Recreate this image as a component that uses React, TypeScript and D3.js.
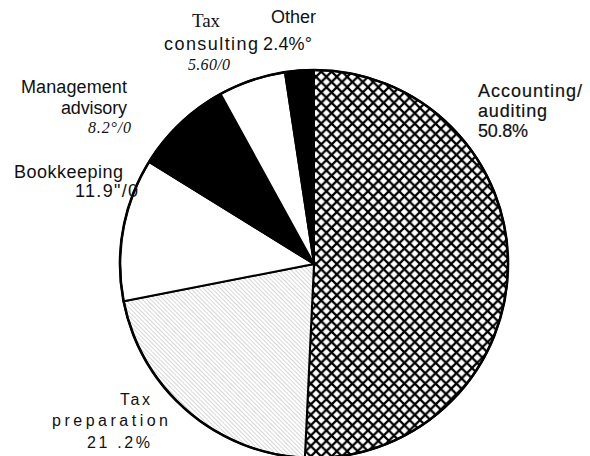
import React from "react";
import * as d3 from "d3";

const categories = ["Accounting/auditing", "Tax preparation", "Bookkeeping", "Management advisory", "Tax consulting", "Other"];
const values = [50.8, 21.2, 11.9, 8.2, 5.6, 2.4];
const fills = ["url(#cross)", "url(#hatch)", "#ffffff", "#000000", "#ffffff", "#000000"];

type Lbl = { text: string; x: number; y: number; size: number; serif?: boolean; italic?: boolean; anchor?: string; len?: number; bold?: boolean };
const labels: Lbl[] = [
  { text: "Tax", x: 206, y: 27, size: 19, serif: true, anchor: "middle" },
  { text: "consulting", x: 164, y: 50, size: 18, len: 94 },
  { text: "Other", x: 271, y: 23, size: 18, len: 45 },
  { text: "2.4%°", x: 263, y: 50, size: 18, len: 49 },
  { text: "5.60/0", x: 188, y: 70, size: 16, serif: true, italic: true, len: 42 },
  { text: "Management", x: 21, y: 92.5, size: 18, len: 106 },
  { text: "advisory", x: 61, y: 114, size: 18, len: 66 },
  { text: "8.2°/0", x: 88, y: 133, size: 16, serif: true, italic: true, len: 43 },
  { text: "Bookkeeping", x: 14, y: 178, size: 18, len: 109 },
  { text: "11.9\"/0", x: 75, y: 197, size: 18, len: 63 },
  { text: "Accounting/", x: 478, y: 97, size: 18, len: 104, bold: true },
  { text: "auditing", x: 478, y: 117, size: 18, len: 69, bold: true },
  { text: "50.8%", x: 478, y: 137, size: 18, len: 50, bold: true },
  { text: "Tax", x: 120, y: 405, size: 16, len: 30 },
  { text: "preparation", x: 52, y: 426, size: 16, len: 116 },
  { text: "21 .2%", x: 87, y: 448, size: 16, len: 63 },
];

const W = 590, H = 456;
const cx = 314, cy = 264, R = 194;
const P = 10.4;

export default function App() {
  const pie = d3.pie<number>().sort(null).startAngle(0).endAngle(2 * Math.PI);
  const arcs = pie(values);
  const arc = d3.arc<d3.PieArcDatum<number>>().innerRadius(0).outerRadius(R);
  return (
    <svg width={W} height={H} style={{ position: "absolute", left: 0, top: 0, background: "#fff" }}>
      <defs>
        <pattern id="cross" patternUnits="userSpaceOnUse" width={P} height={P} x={cx} y={0}>
          <rect width={P} height={P} fill="#fff" />
          <path d={`M-1,-1 L${P + 1},${P + 1} M${P + 1},-1 L-1,${P + 1}`} stroke="#000" strokeWidth={2.2} />
        </pattern>
        <pattern id="hatch" patternUnits="userSpaceOnUse" width={3} height={3} patternTransform="rotate(-45)">
          <rect width={3} height={3} fill="#fff" />
          <line x1={0} y1={0} x2={0} y2={3} stroke="#9a9a9a" strokeWidth={0.8} />
        </pattern>
      </defs>
      <g transform={`translate(${cx},${cy})`}>
        {arcs.map((a, i) => (
          <path key={categories[i]} d={arc(a) || ""} fill={fills[i]} stroke="#000" strokeWidth={2} strokeLinejoin="round" />
        ))}
        <circle r={R} fill="none" stroke="#000" strokeWidth={2.6} />
      </g>
      {labels.map((l, i) => (
        <text
          key={i}
          x={l.x}
          y={l.y}
          fontSize={l.size}
          fontFamily={l.serif ? "'Liberation Serif', 'Times New Roman', serif" : "'Liberation Sans', Arial, sans-serif"}
          fontStyle={l.italic ? "italic" : "normal"}
          textAnchor={l.anchor || "start"}
          textLength={l.len}
          lengthAdjust={l.len ? "spacing" : undefined}
          fill="#111"
          stroke={l.bold ? "#111" : "none"}
          strokeWidth={l.bold ? 0.2 : 0}
        >
          {l.text}
        </text>
      ))}
    </svg>
  );
}
